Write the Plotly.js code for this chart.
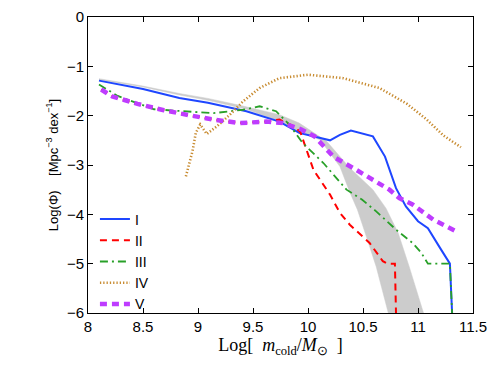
<!DOCTYPE html>
<html>
<head>
<meta charset="utf-8">
<script src="https://cdn.plot.ly/plotly-3.0.1.min.js"></script>
<style>
  body { margin: 0; background: #fff; }
  #chart { width: 491px; height: 369px; }
</style>
</head>
<body>
<div id="chart"></div>
<script>
// model curves: log mass vs log phi
var xI = [8.1, 8.5, 8.83, 9.09, 9.44, 9.74, 9.92, 10.11, 10.2, 10.29, 10.39, 10.59, 10.7, 10.8, 10.89, 11.0, 11.09, 11.2, 11.29, 11.31];
var yI = [-1.29, -1.46, -1.64, -1.74, -1.91, -2.12, -2.35, -2.45, -2.5, -2.39, -2.3, -2.42, -2.83, -3.47, -3.84, -4.14, -4.28, -4.68, -5.0, -6.0];

var xII = [8.12, 8.22, 8.45, 8.69, 8.92, 9.14, 9.38, 9.62, 9.74, 9.86, 9.93, 9.97, 10.05, 10.2, 10.29, 10.38, 10.56, 10.68, 10.72, 10.79, 10.8];
var yII = [-1.47, -1.61, -1.76, -1.89, -1.99, -2.08, -2.15, -2.12, -2.08, -2.2, -2.33, -2.6, -3.1, -3.6, -3.97, -4.21, -4.58, -4.95, -5.0, -5.0, -6.0];

var xIII = [8.1, 8.27, 8.6, 9.0, 9.14, 9.41, 9.56, 9.71, 9.83, 9.95, 10.14, 10.35, 10.49, 10.62, 10.8, 10.95, 11.03, 11.09, 11.29, 11.31];
var yIII = [-1.37, -1.6, -1.87, -1.93, -1.95, -1.88, -1.81, -1.91, -2.18, -2.55, -2.96, -3.5, -3.7, -3.94, -4.31, -4.58, -4.78, -5.0, -5.0, -6.0];

var xIV = [8.89, 8.92, 8.95, 8.98, 9.02, 9.08, 9.17, 9.29, 9.41, 9.56, 9.74, 10.0, 10.32, 10.65, 10.9, 11.08, 11.23, 11.39];
var yIV = [-3.23, -2.96, -2.72, -2.35, -2.18, -2.37, -2.22, -1.98, -1.71, -1.44, -1.24, -1.17, -1.24, -1.44, -1.76, -2.08, -2.4, -2.64];

var xV = [8.12, 8.22, 8.45, 8.69, 8.92, 9.14, 9.38, 9.62, 9.77, 9.94, 10.06, 10.23, 10.44, 10.62, 10.74, 10.83, 10.95, 11.14, 11.36];
var yV = [-1.47, -1.61, -1.76, -1.89, -1.99, -2.08, -2.15, -2.12, -2.15, -2.28, -2.42, -2.83, -3.1, -3.33, -3.5, -3.67, -3.8, -4.11, -4.36];

// grey observational band, upper and lower edges
var xBandTop = [8.1, 8.5, 8.83, 9.09, 9.38, 9.74, 9.92, 10.17, 10.38, 10.59, 10.71, 10.82, 10.92, 11.05];
var yBandTop = [-1.25, -1.4, -1.55, -1.65, -1.79, -1.98, -2.15, -2.52, -3.06, -3.5, -3.88, -4.38, -5.06, -6.0];
var xBandBot = [8.1, 8.5, 8.83, 9.09, 9.44, 9.74, 9.92, 10.11, 10.29, 10.38, 10.45, 10.52, 10.62, 10.73];
var yBandBot = [-1.27, -1.42, -1.58, -1.69, -1.87, -2.12, -2.32, -2.49, -3.03, -3.55, -3.91, -4.38, -5.06, -6.0];

var xTicks = [8, 8.5, 9, 9.5, 10, 10.5, 11, 11.5];
var yTicks = [0, -1, -2, -3, -4, -5, -6];

var band = {
  x: xBandTop.concat(xBandBot.slice().reverse()),
  y: yBandTop.concat(yBandBot.slice().reverse()),
  mode: 'lines',
  fill: 'toself',
  fillcolor: 'rgb(204,204,204)',
  line: {color: 'rgb(204,204,204)', width: 0.5},
  showlegend: false,
  hoverinfo: 'skip'
};

var tI = {x: xI, y: yI, mode: 'lines', name: 'I',
  line: {color: 'rgb(30,70,255)', width: 2}};
var tII = {x: xII, y: yII, mode: 'lines', name: 'II',
  line: {color: 'rgb(255,0,0)', width: 2, dash: '7px,5px'}};
var tIII = {x: xIII, y: yIII, mode: 'lines', name: 'III',
  line: {color: 'rgb(40,160,40)', width: 1.8, dash: '8px,4px,2px,4px'}};
var tIV = {x: xIV, y: yIV, mode: 'lines', name: 'IV',
  line: {color: 'rgb(200,140,50)', width: 2.6, dash: '1.3px,2px'}};
var tV = {x: xV, y: yV, mode: 'lines', name: 'V',
  line: {color: 'rgb(190,60,255)', width: 4.5, dash: '7px,5px'}};

var data = [band, tI, tII, tIII, tIV, tV];

var layout = {
  width: 491,
  height: 369,
  margin: {l: 88, r: 18, t: 17, b: 56},
  paper_bgcolor: 'white',
  plot_bgcolor: 'white',
  font: {family: 'Liberation Sans, Arial, sans-serif', size: 15, color: 'black'},
  xaxis: {
    range: [8, 11.5],
    tickvals: xTicks,
    ticktext: xTicks.map(String),
    ticks: 'inside', ticklen: 5, tickcolor: 'black',
    showline: true, linecolor: 'black', linewidth: 1, mirror: 'ticks',
    showgrid: false, zeroline: false,
    title: {text: 'Log[&nbsp; <i>m</i><sub>cold</sub>/<i>M</i><sub>⊙</sub>&nbsp; ]',
      font: {family: 'Liberation Serif, Times New Roman, serif', size: 18}, standoff: 3}
  },
  yaxis: {
    range: [-6, 0],
    tickvals: yTicks,
    ticktext: yTicks.map(function (v) { return v < 0 ? '\u2212' + (-v) : String(v); }),
    ticks: 'inside', ticklen: 5, tickcolor: 'black',
    showline: true, linecolor: 'black', linewidth: 1, mirror: 'ticks',
    showgrid: false, zeroline: false,
    title: {text: 'Log(Φ)    [Mpc<sup>−3</sup> dex<sup>−1</sup>]',
      font: {size: 13}, standoff: 5}
  },
  legend: {
    x: 0.018, y: 0.37, xanchor: 'left', yanchor: 'top',
    bgcolor: 'rgba(0,0,0,0)', font: {size: 14}, tracegroupgap: 0
  },
  showlegend: true
};

Plotly.newPlot('chart', data, layout, {displayModeBar: false, staticPlot: true});
</script>
</body>
</html>
